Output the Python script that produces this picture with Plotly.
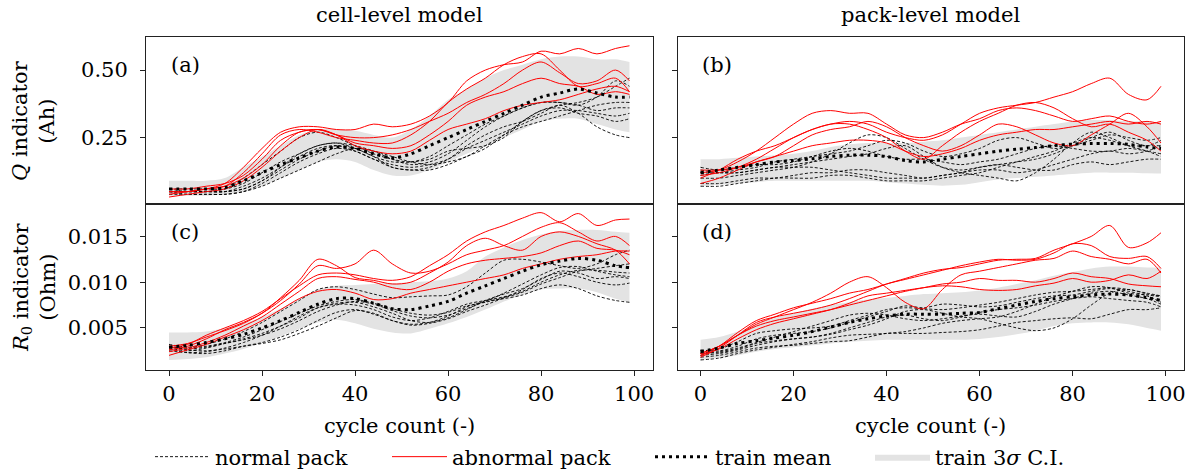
import plotly.graph_objects as go
from plotly.subplots import make_subplots

# ---------------- data ----------------
CYCLE = [0, 4, 8, 12, 16, 20, 24, 28, 32, 36, 40, 44, 48, 52, 56, 60, 64, 68, 72, 76, 80, 84, 88, 92, 96, 99]
X_TICKS = [0, 20, 40, 60, 80, 100]
Q_TICKS = [0.25, 0.50]
R_TICKS = [0.005, 0.010, 0.015]
PANEL_LABELS = ["(a)", "(b)", "(c)", "(d)"]
COLUMN_TITLES = ["cell-level model", "pack-level model"]
X_TITLE = "cycle count (-)"
Y_TITLES = ["<i>Q</i> indicator<br>(Ah)", "<i>R</i><sub>0</sub> indicator<br>(Ohm)"]
LEGEND_NAMES = ["normal pack", "abnormal pack", "train mean", "train 3<i>σ</i> C.I."]

# (a) Q indicator, cell-level model
A_MEAN = [0.060, 0.060, 0.060, 0.065, 0.09, 0.12, 0.15, 0.175, 0.20, 0.215, 0.21, 0.19, 0.175, 0.19, 0.22, 0.25, 0.28, 0.31, 0.34, 0.37, 0.40, 0.415, 0.43, 0.415, 0.40, 0.40]
A_UPPER = [0.09, 0.09, 0.09, 0.10, 0.14, 0.18, 0.22, 0.26, 0.28, 0.28, 0.275, 0.26, 0.25, 0.28, 0.33, 0.39, 0.43, 0.47, 0.50, 0.52, 0.54, 0.55, 0.55, 0.54, 0.54, 0.53]
A_LOWER = [0.035, 0.035, 0.035, 0.04, 0.05, 0.07, 0.10, 0.13, 0.16, 0.17, 0.16, 0.13, 0.11, 0.11, 0.13, 0.16, 0.19, 0.22, 0.25, 0.28, 0.31, 0.32, 0.32, 0.30, 0.28, 0.27]
A_NORMAL_1 = [0.05, 0.05, 0.05, 0.06, 0.10, 0.15, 0.20, 0.25, 0.27, 0.25, 0.22, 0.19, 0.17, 0.16, 0.18, 0.22, 0.26, 0.30, 0.33, 0.36, 0.38, 0.38, 0.37, 0.40, 0.46, 0.44]
A_NORMAL_2 = [0.06, 0.06, 0.06, 0.06, 0.08, 0.12, 0.16, 0.19, 0.22, 0.23, 0.22, 0.20, 0.17, 0.15, 0.16, 0.19, 0.24, 0.29, 0.33, 0.36, 0.38, 0.38, 0.37, 0.35, 0.36, 0.36]
A_NORMAL_3 = [0.05, 0.05, 0.05, 0.05, 0.07, 0.10, 0.14, 0.18, 0.21, 0.22, 0.20, 0.17, 0.15, 0.14, 0.15, 0.17, 0.21, 0.24, 0.27, 0.30, 0.33, 0.35, 0.35, 0.34, 0.33, 0.34]
A_NORMAL_4 = [0.04, 0.04, 0.04, 0.04, 0.05, 0.08, 0.12, 0.16, 0.19, 0.21, 0.20, 0.17, 0.14, 0.13, 0.14, 0.17, 0.22, 0.26, 0.29, 0.31, 0.34, 0.37, 0.34, 0.29, 0.26, 0.25]
A_NORMAL_5 = [0.06, 0.05, 0.05, 0.05, 0.06, 0.09, 0.13, 0.17, 0.20, 0.22, 0.21, 0.18, 0.16, 0.16, 0.17, 0.20, 0.21, 0.22, 0.25, 0.31, 0.35, 0.36, 0.34, 0.33, 0.31, 0.32]
A_NORMAL_6 = [0.05, 0.04, 0.04, 0.04, 0.05, 0.07, 0.10, 0.13, 0.16, 0.19, 0.21, 0.20, 0.18, 0.16, 0.15, 0.16, 0.18, 0.22, 0.26, 0.29, 0.31, 0.33, 0.35, 0.37, 0.38, 0.38]
A_NORMAL_7 = [0.05, 0.05, 0.05, 0.05, 0.06, 0.09, 0.14, 0.19, 0.22, 0.23, 0.21, 0.18, 0.14, 0.13, 0.13, 0.15, 0.18, 0.21, 0.26, 0.31, 0.35, 0.37, 0.38, 0.40, 0.44, 0.47]
A_ABNORMAL_1 = [0.05, 0.05, 0.06, 0.08, 0.14, 0.21, 0.27, 0.29, 0.29, 0.28, 0.28, 0.30, 0.29, 0.30, 0.33, 0.38, 0.46, 0.50, 0.52, 0.53, 0.57, 0.56, 0.58, 0.56, 0.58, 0.59]
A_ABNORMAL_2 = [0.04, 0.05, 0.06, 0.07, 0.12, 0.19, 0.26, 0.28, 0.27, 0.25, 0.24, 0.23, 0.23, 0.26, 0.31, 0.38, 0.43, 0.47, 0.52, 0.55, 0.56, 0.50, 0.44, 0.45, 0.47, 0.42]
A_ABNORMAL_3 = [0.06, 0.06, 0.07, 0.08, 0.11, 0.17, 0.24, 0.27, 0.28, 0.26, 0.25, 0.25, 0.26, 0.28, 0.31, 0.34, 0.38, 0.41, 0.45, 0.50, 0.53, 0.49, 0.45, 0.46, 0.50, 0.46]
A_ABNORMAL_4 = [0.05, 0.05, 0.06, 0.07, 0.10, 0.15, 0.22, 0.27, 0.28, 0.26, 0.23, 0.22, 0.21, 0.22, 0.26, 0.31, 0.37, 0.40, 0.42, 0.45, 0.47, 0.45, 0.44, 0.41, 0.42, 0.41]
A_ABNORMAL_5 = [0.03, 0.04, 0.05, 0.06, 0.09, 0.14, 0.20, 0.25, 0.28, 0.26, 0.22, 0.20, 0.19, 0.20, 0.24, 0.28, 0.30, 0.32, 0.35, 0.37, 0.38, 0.39, 0.41, 0.43, 0.44, 0.42]

# (b) Q indicator, pack-level model
B_MEAN = [0.12, 0.13, 0.14, 0.15, 0.16, 0.165, 0.172, 0.18, 0.185, 0.185, 0.18, 0.165, 0.16, 0.17, 0.18, 0.19, 0.20, 0.207, 0.213, 0.22, 0.226, 0.228, 0.228, 0.225, 0.215, 0.21]
B_UPPER = [0.17, 0.17, 0.175, 0.18, 0.185, 0.19, 0.20, 0.215, 0.225, 0.23, 0.23, 0.23, 0.235, 0.24, 0.25, 0.26, 0.27, 0.28, 0.29, 0.30, 0.31, 0.315, 0.315, 0.31, 0.31, 0.305]
B_LOWER = [0.07, 0.075, 0.08, 0.085, 0.09, 0.09, 0.09, 0.09, 0.09, 0.09, 0.085, 0.08, 0.075, 0.072, 0.075, 0.085, 0.095, 0.10, 0.105, 0.11, 0.115, 0.12, 0.12, 0.12, 0.118, 0.117]
B_NORMAL_1 = [0.10, 0.10, 0.11, 0.12, 0.13, 0.14, 0.16, 0.19, 0.23, 0.26, 0.25, 0.21, 0.17, 0.14, 0.13, 0.14, 0.15, 0.16, 0.17, 0.19, 0.22, 0.25, 0.27, 0.24, 0.22, 0.24]
B_NORMAL_2 = [0.14, 0.13, 0.14, 0.15, 0.15, 0.16, 0.18, 0.20, 0.21, 0.20, 0.18, 0.17, 0.17, 0.16, 0.15, 0.16, 0.17, 0.19, 0.21, 0.22, 0.21, 0.20, 0.20, 0.21, 0.20, 0.19]
B_NORMAL_3 = [0.08, 0.08, 0.09, 0.10, 0.10, 0.11, 0.12, 0.12, 0.13, 0.13, 0.12, 0.11, 0.10, 0.11, 0.12, 0.14, 0.15, 0.14, 0.13, 0.13, 0.15, 0.16, 0.15, 0.16, 0.17, 0.17]
B_NORMAL_4 = [0.07, 0.07, 0.08, 0.09, 0.10, 0.10, 0.10, 0.11, 0.11, 0.10, 0.09, 0.09, 0.09, 0.10, 0.11, 0.12, 0.14, 0.16, 0.18, 0.20, 0.23, 0.25, 0.24, 0.22, 0.22, 0.22]
B_NORMAL_5 = [0.12, 0.12, 0.13, 0.14, 0.16, 0.17, 0.18, 0.19, 0.20, 0.22, 0.24, 0.23, 0.20, 0.18, 0.19, 0.21, 0.24, 0.25, 0.23, 0.21, 0.22, 0.24, 0.26, 0.25, 0.24, 0.25]
B_NORMAL_6 = [0.11, 0.12, 0.12, 0.13, 0.14, 0.15, 0.16, 0.17, 0.18, 0.19, 0.21, 0.22, 0.18, 0.14, 0.12, 0.11, 0.10, 0.09, 0.12, 0.17, 0.23, 0.27, 0.25, 0.22, 0.20, 0.18]
B_NORMAL_7 = [0.13, 0.12, 0.12, 0.13, 0.14, 0.14, 0.14, 0.13, 0.12, 0.11, 0.10, 0.10, 0.10, 0.11, 0.12, 0.13, 0.13, 0.12, 0.13, 0.15, 0.17, 0.19, 0.20, 0.19, 0.20, 0.22]
B_ABNORMAL_1 = [0.10, 0.13, 0.17, 0.20, 0.22, 0.25, 0.28, 0.30, 0.31, 0.30, 0.27, 0.25, 0.24, 0.26, 0.30, 0.34, 0.36, 0.37, 0.38, 0.40, 0.42, 0.45, 0.47, 0.41, 0.39, 0.44]
B_ABNORMAL_2 = [0.12, 0.13, 0.16, 0.20, 0.25, 0.30, 0.34, 0.35, 0.34, 0.34, 0.30, 0.26, 0.25, 0.27, 0.30, 0.32, 0.35, 0.36, 0.35, 0.33, 0.31, 0.32, 0.33, 0.31, 0.30, 0.31]
B_ABNORMAL_3 = [0.08, 0.10, 0.13, 0.16, 0.18, 0.20, 0.22, 0.23, 0.24, 0.24, 0.23, 0.20, 0.18, 0.19, 0.21, 0.24, 0.26, 0.27, 0.28, 0.28, 0.29, 0.30, 0.31, 0.30, 0.31, 0.30]
B_ABNORMAL_4 = [0.11, 0.12, 0.14, 0.17, 0.21, 0.25, 0.28, 0.30, 0.30, 0.28, 0.25, 0.20, 0.17, 0.22, 0.27, 0.31, 0.34, 0.37, 0.38, 0.36, 0.32, 0.29, 0.30, 0.27, 0.24, 0.20]
B_ABNORMAL_5 = [0.13, 0.13, 0.14, 0.16, 0.18, 0.22, 0.26, 0.28, 0.29, 0.31, 0.29, 0.25, 0.22, 0.20, 0.22, 0.26, 0.30, 0.29, 0.26, 0.23, 0.22, 0.26, 0.30, 0.34, 0.29, 0.23]

# (c) R0 indicator, cell-level model
C_MEAN = [0.0029, 0.0031, 0.0034, 0.0038, 0.0043, 0.0050, 0.0058, 0.0067, 0.0076, 0.0082, 0.0082, 0.0077, 0.0071, 0.0070, 0.0074, 0.0079, 0.0088, 0.0096, 0.0104, 0.0112, 0.0119, 0.0123, 0.0126, 0.0124, 0.0118, 0.0116]
C_UPPER = [0.0045, 0.0045, 0.0046, 0.0050, 0.0055, 0.0062, 0.0071, 0.0082, 0.0092, 0.0096, 0.0097, 0.0098, 0.0099, 0.0100, 0.0101, 0.0104, 0.0112, 0.0128, 0.0138, 0.0146, 0.0152, 0.0156, 0.0157, 0.0157, 0.0155, 0.0154]
C_LOWER = [0.0015, 0.0016, 0.0018, 0.0022, 0.0027, 0.0034, 0.0041, 0.0049, 0.0056, 0.0059, 0.0055, 0.0049, 0.0045, 0.0044, 0.0049, 0.0055, 0.0062, 0.0070, 0.0079, 0.0086, 0.0092, 0.0093, 0.0093, 0.0089, 0.0082, 0.0078]
C_NORMAL_1 = [0.0030, 0.0028, 0.0032, 0.0038, 0.0046, 0.0056, 0.0068, 0.0080, 0.0092, 0.0095, 0.0092, 0.0087, 0.0083, 0.0084, 0.0085, 0.0086, 0.0095, 0.0110, 0.0124, 0.0125, 0.0122, 0.0118, 0.0115, 0.0120, 0.0130, 0.0135]
C_NORMAL_2 = [0.0028, 0.0025, 0.0028, 0.0033, 0.0038, 0.0044, 0.0052, 0.0061, 0.0072, 0.0077, 0.0078, 0.0073, 0.0066, 0.0058, 0.0056, 0.0061, 0.0070, 0.0080, 0.0087, 0.0093, 0.0103, 0.0112, 0.0110, 0.0104, 0.0106, 0.0104]
C_NORMAL_3 = [0.0027, 0.0023, 0.0022, 0.0025, 0.0030, 0.0034, 0.0040, 0.0048, 0.0058, 0.0067, 0.0070, 0.0065, 0.0058, 0.0053, 0.0055, 0.0060, 0.0068, 0.0075, 0.0083, 0.0092, 0.0104, 0.0110, 0.0106, 0.0100, 0.0097, 0.0099]
C_NORMAL_4 = [0.0030, 0.0026, 0.0025, 0.0027, 0.0030, 0.0033, 0.0037, 0.0044, 0.0052, 0.0061, 0.0069, 0.0066, 0.0058, 0.0054, 0.0056, 0.0063, 0.0073, 0.0079, 0.0082, 0.0086, 0.0093, 0.0097, 0.0093, 0.0085, 0.0080, 0.0078]
C_NORMAL_5 = [0.0025, 0.0023, 0.0024, 0.0028, 0.0034, 0.0042, 0.0052, 0.0063, 0.0072, 0.0076, 0.0075, 0.0070, 0.0062, 0.0058, 0.0061, 0.0068, 0.0076, 0.0080, 0.0084, 0.0090, 0.0100, 0.0108, 0.0113, 0.0113, 0.0111, 0.0110]
C_NORMAL_6 = [0.0032, 0.0029, 0.0030, 0.0034, 0.0040, 0.0048, 0.0057, 0.0066, 0.0074, 0.0079, 0.0081, 0.0077, 0.0071, 0.0066, 0.0064, 0.0067, 0.0074, 0.0078, 0.0083, 0.0089, 0.0098, 0.0105, 0.0112, 0.0115, 0.0118, 0.0120]
C_NORMAL_7 = [0.0029, 0.0027, 0.0029, 0.0033, 0.0037, 0.0042, 0.0049, 0.0058, 0.0068, 0.0075, 0.0079, 0.0076, 0.0069, 0.0063, 0.0061, 0.0064, 0.0071, 0.0079, 0.0088, 0.0098, 0.0108, 0.0116, 0.0117, 0.0112, 0.0108, 0.0106]
C_ABNORMAL_1 = [0.0028, 0.0032, 0.0042, 0.0050, 0.0058, 0.0068, 0.0082, 0.0096, 0.0108, 0.0110, 0.0108, 0.0104, 0.0102, 0.0106, 0.0118, 0.0130, 0.0145, 0.0155, 0.0162, 0.0170, 0.0176, 0.0166, 0.0175, 0.0162, 0.0168, 0.0169]
C_ABNORMAL_2 = [0.0026, 0.0030, 0.0038, 0.0048, 0.0056, 0.0066, 0.0080, 0.0098, 0.0118, 0.0115, 0.0120, 0.0135, 0.0120, 0.0110, 0.0112, 0.0120, 0.0130, 0.0135, 0.0140, 0.0150, 0.0160, 0.0165, 0.0155, 0.0145, 0.0150, 0.0140]
C_ABNORMAL_3 = [0.0030, 0.0033, 0.0040, 0.0047, 0.0055, 0.0066, 0.0083, 0.0102, 0.0125, 0.0118, 0.0105, 0.0102, 0.0098, 0.0100, 0.0110, 0.0122, 0.0140, 0.0148, 0.0140, 0.0135, 0.0150, 0.0155, 0.0150, 0.0142, 0.0135, 0.0120]
C_ABNORMAL_4 = [0.0024, 0.0028, 0.0034, 0.0042, 0.0052, 0.0062, 0.0076, 0.0090, 0.0104, 0.0106, 0.0103, 0.0100, 0.0094, 0.0092, 0.0100, 0.0112, 0.0120, 0.0124, 0.0126, 0.0128, 0.0132, 0.0140, 0.0145, 0.0137, 0.0135, 0.0130]
C_ABNORMAL_5 = [0.0020, 0.0026, 0.0032, 0.0040, 0.0048, 0.0058, 0.0070, 0.0082, 0.0090, 0.0092, 0.0088, 0.0081, 0.0082, 0.0088, 0.0092, 0.0096, 0.0100, 0.0104, 0.0108, 0.0115, 0.0120, 0.0125, 0.0128, 0.0130, 0.0134, 0.0134]

# (d) R0 indicator, pack-level model
D_MEAN = [0.0024, 0.0028, 0.0033, 0.0036, 0.0039, 0.0042, 0.0046, 0.0051, 0.0056, 0.0060, 0.0063, 0.0065, 0.0065, 0.0065, 0.0066, 0.0067, 0.0071, 0.0075, 0.0079, 0.0082, 0.0084, 0.0086, 0.0087, 0.0086, 0.0083, 0.0080]
D_UPPER = [0.0037, 0.0040, 0.0046, 0.0054, 0.0061, 0.0066, 0.0071, 0.0075, 0.0078, 0.0081, 0.0083, 0.0085, 0.0087, 0.0088, 0.0089, 0.0091, 0.0094, 0.0098, 0.0102, 0.0107, 0.0111, 0.0115, 0.0117, 0.0117, 0.0116, 0.0116]
D_LOWER = [0.0015, 0.0017, 0.0020, 0.0024, 0.0027, 0.0029, 0.0031, 0.0033, 0.0035, 0.0036, 0.0037, 0.0037, 0.0037, 0.0037, 0.0037, 0.0038, 0.0040, 0.0043, 0.0047, 0.0052, 0.0055, 0.0056, 0.0056, 0.0054, 0.0050, 0.0047]
D_NORMAL_1 = [0.0025, 0.0027, 0.0035, 0.0044, 0.0047, 0.0049, 0.0050, 0.0052, 0.0058, 0.0064, 0.0070, 0.0072, 0.0071, 0.0070, 0.0072, 0.0075, 0.0078, 0.0082, 0.0086, 0.0089, 0.0090, 0.0092, 0.0094, 0.0092, 0.0088, 0.0085]
D_NORMAL_2 = [0.0020, 0.0022, 0.0026, 0.0031, 0.0035, 0.0038, 0.0040, 0.0043, 0.0048, 0.0053, 0.0060, 0.0068, 0.0070, 0.0066, 0.0062, 0.0060, 0.0055, 0.0050, 0.0047, 0.0050, 0.0060, 0.0075, 0.0088, 0.0092, 0.0087, 0.0085]
D_NORMAL_3 = [0.0022, 0.0024, 0.0028, 0.0034, 0.0040, 0.0046, 0.0052, 0.0058, 0.0064, 0.0066, 0.0064, 0.0060, 0.0058, 0.0060, 0.0063, 0.0065, 0.0063, 0.0062, 0.0068, 0.0076, 0.0082, 0.0088, 0.0090, 0.0086, 0.0082, 0.0076]
D_NORMAL_4 = [0.0018, 0.0020, 0.0024, 0.0028, 0.0030, 0.0031, 0.0033, 0.0035, 0.0036, 0.0040, 0.0044, 0.0044, 0.0044, 0.0045, 0.0046, 0.0048, 0.0052, 0.0056, 0.0058, 0.0060, 0.0061, 0.0060, 0.0065, 0.0070, 0.0070, 0.0072]
D_NORMAL_5 = [0.0015, 0.0017, 0.0022, 0.0026, 0.0029, 0.0032, 0.0035, 0.0039, 0.0042, 0.0043, 0.0044, 0.0046, 0.0050, 0.0055, 0.0058, 0.0060, 0.0062, 0.0068, 0.0076, 0.0084, 0.0090, 0.0095, 0.0094, 0.0088, 0.0086, 0.0084]
D_NORMAL_6 = [0.0026, 0.0025, 0.0030, 0.0038, 0.0042, 0.0044, 0.0046, 0.0050, 0.0056, 0.0062, 0.0068, 0.0074, 0.0072, 0.0076, 0.0075, 0.0073, 0.0074, 0.0078, 0.0082, 0.0085, 0.0086, 0.0090, 0.0093, 0.0090, 0.0085, 0.0078]
D_NORMAL_7 = [0.0023, 0.0023, 0.0027, 0.0033, 0.0036, 0.0038, 0.0040, 0.0044, 0.0050, 0.0056, 0.0062, 0.0064, 0.0060, 0.0058, 0.0062, 0.0067, 0.0070, 0.0072, 0.0075, 0.0079, 0.0082, 0.0084, 0.0082, 0.0080, 0.0078, 0.0073]
D_ABNORMAL_1 = [0.0020, 0.0030, 0.0045, 0.0058, 0.0065, 0.0072, 0.0077, 0.0082, 0.0088, 0.0092, 0.0098, 0.0104, 0.0110, 0.0114, 0.0116, 0.0120, 0.0124, 0.0125, 0.0126, 0.0135, 0.0142, 0.0150, 0.0162, 0.0138, 0.0143, 0.0154]
D_ABNORMAL_2 = [0.0018, 0.0028, 0.0042, 0.0056, 0.0062, 0.0066, 0.0070, 0.0075, 0.0082, 0.0090, 0.0098, 0.0103, 0.0108, 0.0113, 0.0118, 0.0122, 0.0125, 0.0124, 0.0125, 0.0132, 0.0142, 0.0140, 0.0128, 0.0126, 0.0128, 0.0115]
D_ABNORMAL_3 = [0.0022, 0.0030, 0.0042, 0.0052, 0.0058, 0.0062, 0.0066, 0.0070, 0.0075, 0.0080, 0.0085, 0.0090, 0.0094, 0.0098, 0.0100, 0.0104, 0.0102, 0.0102, 0.0100, 0.0104, 0.0110, 0.0106, 0.0104, 0.0098, 0.0096, 0.0095]
D_ABNORMAL_4 = [0.0020, 0.0027, 0.0038, 0.0048, 0.0055, 0.0060, 0.0065, 0.0070, 0.0077, 0.0085, 0.0088, 0.0091, 0.0094, 0.0096, 0.0095, 0.0092, 0.0091, 0.0092, 0.0096, 0.0099, 0.0104, 0.0100, 0.0102, 0.0108, 0.0104, 0.0112]
D_ABNORMAL_5 = [0.0022, 0.0030, 0.0042, 0.0054, 0.0062, 0.0070, 0.0078, 0.0088, 0.0100, 0.0106, 0.0094, 0.0078, 0.0071, 0.0092, 0.0108, 0.0112, 0.0116, 0.0120, 0.0124, 0.0126, 0.0134, 0.0128, 0.0125, 0.0120, 0.0125, 0.0110]

PANELS = [
    (1, 1, A_MEAN, A_UPPER, A_LOWER,
     [A_NORMAL_1, A_NORMAL_2, A_NORMAL_3, A_NORMAL_4, A_NORMAL_5, A_NORMAL_6, A_NORMAL_7],
     [A_ABNORMAL_1, A_ABNORMAL_2, A_ABNORMAL_3, A_ABNORMAL_4, A_ABNORMAL_5]),
    (1, 2, B_MEAN, B_UPPER, B_LOWER,
     [B_NORMAL_1, B_NORMAL_2, B_NORMAL_3, B_NORMAL_4, B_NORMAL_5, B_NORMAL_6, B_NORMAL_7],
     [B_ABNORMAL_1, B_ABNORMAL_2, B_ABNORMAL_3, B_ABNORMAL_4, B_ABNORMAL_5]),
    (2, 1, C_MEAN, C_UPPER, C_LOWER,
     [C_NORMAL_1, C_NORMAL_2, C_NORMAL_3, C_NORMAL_4, C_NORMAL_5, C_NORMAL_6, C_NORMAL_7],
     [C_ABNORMAL_1, C_ABNORMAL_2, C_ABNORMAL_3, C_ABNORMAL_4, C_ABNORMAL_5]),
    (2, 2, D_MEAN, D_UPPER, D_LOWER,
     [D_NORMAL_1, D_NORMAL_2, D_NORMAL_3, D_NORMAL_4, D_NORMAL_5, D_NORMAL_6, D_NORMAL_7],
     [D_ABNORMAL_1, D_ABNORMAL_2, D_ABNORMAL_3, D_ABNORMAL_4, D_ABNORMAL_5]),
]

# ---------------- figure ----------------
FONT = "DejaVu Serif"
FS = 21
W, H = 1197, 472
ML, MR, MT, MB = 146, 13, 37, 102
PW = W - ML - MR
PH = H - MT - MB

def px_x(px):
    return (px - ML) / PW

def px_y(py):
    return (MT + PH - py) / PH

gap = 25 / PW
fig = make_subplots(rows=2, cols=2, horizontal_spacing=gap, vertical_spacing=0)

SPL = dict(shape="spline", smoothing=0.9)
first = True
for (r, c, mean, up, lo, normals, abnormals) in PANELS:
    fig.add_trace(go.Scatter(
        x=CYCLE, y=lo, mode="lines", line=dict(width=0, color="#e3e3e3", **SPL),
        showlegend=False, hoverinfo="skip"), row=r, col=c)
    fig.add_trace(go.Scatter(
        x=CYCLE, y=up, mode="lines", fill="tonexty", fillcolor="#e3e3e3",
        line=dict(width=0, color="#e3e3e3", **SPL),
        name=LEGEND_NAMES[3], legend="legend4", showlegend=first, hoverinfo="skip"), row=r, col=c)
    for k, ys in enumerate(normals):
        fig.add_trace(go.Scatter(
            x=CYCLE, y=ys, mode="lines",
            line=dict(color="black", width=0.9, dash="3px,2px", **SPL),
            name=LEGEND_NAMES[0], legend="legend", showlegend=(first and k == 0)), row=r, col=c)
    for k, ys in enumerate(abnormals):
        fig.add_trace(go.Scatter(
            x=CYCLE, y=ys, mode="lines",
            line=dict(color="#ff0000", width=1, **SPL),
            name=LEGEND_NAMES[1], legend="legend2", showlegend=(first and k == 0)), row=r, col=c)
    fig.add_trace(go.Scatter(
        x=CYCLE, y=mean, mode="lines",
        line=dict(color="black", width=3, dash="3px,4px", **SPL),
        name=LEGEND_NAMES[2], legend="legend3", showlegend=first), row=r, col=c)
    first = False

base = dict(showline=True, linecolor="#222", linewidth=1, mirror=True,
            showgrid=False, zeroline=False, ticklen=5, tickcolor="#222",
            tickfont=dict(family=FONT, size=FS, color="black"))

for r in (1, 2):
    for c in (1, 2):
        fig.update_xaxes(range=[-4.95, 103.95], tickvals=X_TICKS,
                         showticklabels=(r == 2), ticks=("outside" if r == 2 else ""),
                         row=r, col=c, **base)
        if r == 1:
            fig.update_yaxes(range=[0.006, 0.6225], tickvals=Q_TICKS, tickformat=".2f",
                             ticks="outside", ticklabelstandoff=8,
                             showticklabels=(c == 1), row=r, col=c, **base)
        else:
            fig.update_yaxes(range=[0.0004, 0.0186], tickvals=R_TICKS, tickformat=".3f",
                             ticks="outside", ticklabelstandoff=8,
                             showticklabels=(c == 1), row=r, col=c, **base)

annotations = []
txt = dict(family=FONT, size=FS, color="black")
refs = [("x domain", "y domain"), ("x2 domain", "y2 domain"), ("x3 domain", "y3 domain"), ("x4 domain", "y4 domain")]
for lab, (xr, yr) in zip(PANEL_LABELS, refs):
    annotations.append(dict(text=lab, xref=xr, yref=yr, x=0.045, y=0.83,
                            xanchor="left", yanchor="middle", showarrow=False, font=txt))
left_c = (0 + (1 - gap) / 2) / 2
right_c = ((1 + gap) / 2 + 1) / 2
for cx, t in zip([left_c, right_c], COLUMN_TITLES):
    annotations.append(dict(text=t, xref="paper", yref="paper", x=cx, y=px_y(15),
                            xanchor="center", yanchor="middle", showarrow=False, font=txt))
    annotations.append(dict(text=X_TITLE, xref="paper", yref="paper", x=cx, y=px_y(426),
                            xanchor="center", yanchor="middle", showarrow=False, font=txt))
for yc, t in zip([121, 287], Y_TITLES):
    annotations.append(dict(text=t, xref="paper", yref="paper", x=px_x(34),
                            y=px_y(yc), xanchor="center", yanchor="middle",
                            textangle=-90, showarrow=False, font=txt))

leg_common = dict(orientation="h", xanchor="left", yanchor="middle", y=px_y(457),
                  font=dict(family=FONT, size=FS, color="black"), bgcolor="rgba(0,0,0,0)",
                  itemwidth=55)
fig.update_layout(
    width=W, height=H, margin=dict(l=ML, r=MR, t=MT, b=MB, autoexpand=False),
    paper_bgcolor="white", plot_bgcolor="white",
    font=dict(family=FONT, size=FS, color="black"),
    annotations=annotations,
    showlegend=True,
    legend=dict(x=px_x(150), **leg_common),
    legend2=dict(x=px_x(387), **leg_common),
    legend3=dict(x=px_x(650), **leg_common),
    legend4=dict(x=px_x(870), **leg_common),
)

fig.write_html("out.html", config={"displayModeBar": False},
               post_script="document.body.style.margin='0px';")
